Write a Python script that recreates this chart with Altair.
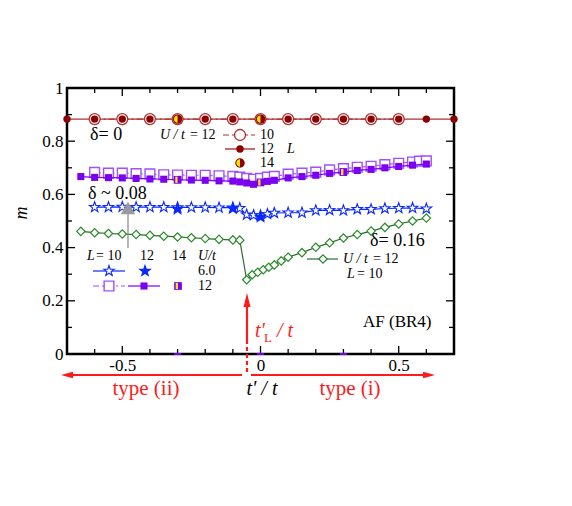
import altair as alt
import pandas as pd

# ---------------- data ----------------
# delta = 0, U/t = 12
red10_x = [-0.6, -0.5, -0.4, -0.3, -0.2, -0.1, 0.0, 0.1, 0.2, 0.3, 0.4, 0.5]
red10_m = [0.883, 0.883, 0.883, 0.883, 0.883, 0.883, 0.883, 0.883, 0.883, 0.883, 0.883, 0.883]
red12_x = [-0.7, -0.6, -0.5, -0.4, -0.3, -0.2, -0.1, 0.0, 0.1, 0.2, 0.3, 0.4, 0.5, 0.6, 0.7]
red12_m = [0.883, 0.883, 0.883, 0.883, 0.883, 0.883, 0.883, 0.883, 0.883, 0.883, 0.883, 0.883, 0.883, 0.883, 0.883]
red14_x = [-0.3, 0.0]
red14_m = [0.883, 0.883]

# delta ~ 0.08, U/t = 12
pur10_x = [-0.6, -0.55, -0.5, -0.45, -0.4, -0.35, -0.3, -0.25, -0.2, -0.15, -0.1, -0.075, -0.05, -0.025, 0.0,
           0.025, 0.05, 0.1, 0.15, 0.2, 0.25, 0.3, 0.35, 0.4, 0.45, 0.5, 0.55, 0.575, 0.6]
pur10_m = [0.683, 0.680, 0.680, 0.678, 0.677, 0.674, 0.673, 0.672, 0.672, 0.670, 0.668, 0.665, 0.660, 0.657, 0.660,
           0.665, 0.668, 0.676, 0.680, 0.684, 0.692, 0.697, 0.702, 0.706, 0.712, 0.717, 0.722, 0.725, 0.726]
pur12_x = [-0.65, -0.6, -0.55, -0.5, -0.45, -0.4, -0.35, -0.3, -0.25, -0.2, -0.15, -0.1, -0.075, -0.05, -0.025, 0.0,
           0.025, 0.05, 0.1, 0.15, 0.2, 0.25, 0.3, 0.35, 0.4, 0.45, 0.5, 0.55, 0.6]
pur12_m = [0.667, 0.664, 0.663, 0.662, 0.660, 0.658, 0.657, 0.655, 0.654, 0.653, 0.651, 0.650, 0.647, 0.643, 0.638, 0.645,
           0.649, 0.653, 0.662, 0.667, 0.672, 0.679, 0.684, 0.690, 0.694, 0.700, 0.705, 0.710, 0.714]
pur14_x = [-0.3, 0.0, 0.3]
pur14_m = [0.655, 0.645, 0.684]

# delta ~ 0.08, U/t = 6
blu10_x = [-0.6, -0.55, -0.5, -0.45, -0.4, -0.35, -0.3, -0.25, -0.2, -0.15, -0.1, -0.075, -0.05, -0.025, 0.0,
           0.025, 0.05, 0.1, 0.15, 0.2, 0.25, 0.3, 0.35, 0.4, 0.45, 0.5, 0.55, 0.6]
blu10_m = [0.552, 0.552, 0.553, 0.552, 0.552, 0.552, 0.551, 0.551, 0.551, 0.550, 0.550, 0.548, 0.524, 0.522, 0.521,
           0.526, 0.530, 0.531, 0.531, 0.540, 0.541, 0.540, 0.544, 0.544, 0.547, 0.548, 0.549, 0.546]
blu12_x = [-0.3, -0.1, 0.0]
blu12_m = [0.545, 0.547, 0.515]

# delta = 0.16, U/t = 12, L = 10
grn_x = [-0.65, -0.6, -0.55, -0.5, -0.45, -0.4, -0.35, -0.3, -0.25, -0.2, -0.15, -0.1, -0.075, -0.05, -0.03, -0.01,
         0.01, 0.03, 0.05, 0.075, 0.1, 0.15, 0.2, 0.25, 0.3, 0.35, 0.4, 0.45, 0.5, 0.55, 0.6]
grn_m = [0.461, 0.456, 0.453, 0.451, 0.449, 0.446, 0.443, 0.440, 0.437, 0.434, 0.431, 0.429, 0.428, 0.279, 0.298, 0.307,
         0.317, 0.326, 0.335, 0.350, 0.364, 0.381, 0.401, 0.418, 0.436, 0.449, 0.462, 0.476, 0.489, 0.500, 0.511]

# small purple marks sitting on the axis
zero_x = [-0.3, 0.0, 0.3]
zero_m = [0.0, 0.0, 0.0]

# axis ticks
x_major = [-0.5, 0.0, 0.5]
x_minor = [-0.6, -0.4, -0.3, -0.2, -0.1, 0.1, 0.2, 0.3, 0.4, 0.6]
y_major = [0.2, 0.4, 0.6, 0.8]
y_minor = [0.1, 0.3, 0.5, 0.7, 0.9]
y_labels = [0.0, 0.2, 0.4, 0.6, 0.8, 1.0]

# ---------------- styling ----------------
FONT = "Liberation Serif"
W, H = 387, 266
RED_D = "#8B0000"
RED_L = "#B03030"
YEL = "#FFE600"
PUR = "#7B00F0"
PUR_L = "#A050FF"
BLU = "#0A28FF"
GRN = "#2A8A2A"
GRN_L = "#2F6A2F"
STAR = ("M0,-1L0.235,-0.324L0.951,-0.309L0.38,0.124L0.588,0.809L0,0.4"
        "L-0.588,0.809L-0.38,0.124L-0.951,-0.309L-0.235,-0.324Z")
HALF_C = "M0,-1A1,1,0,0,0,0,1Z"
HALF_S = "M-0.6,-0.8H0V0.8H-0.6Z"
DASHDOT = [6, 3, 2, 3]
LF = 14  # legend font size

xs = alt.Scale(domain=[-0.7, 0.7], nice=False, zero=False)
ys = alt.Scale(domain=[0, 1], nice=False)
xaxis = alt.Axis(values=x_major, ticks=False, domain=False, grid=False, title=None,
                 labelExpr="datum.value < 0 ? '-' + format(-datum.value, '.1f') : (datum.value == 0 ? '0' : format(datum.value, '.1f'))",
                 labelPadding=3)
yaxis = alt.Axis(values=y_labels, ticks=False, domain=False, grid=False, title=None,
                 labelExpr="format(datum.value, '~g')", labelPadding=4)
X = alt.X("x:Q", scale=xs, axis=xaxis)
Y = alt.Y("m:Q", scale=ys, axis=yaxis)
one = pd.DataFrame({"k": [0]})


def df(x, m):
    return pd.DataFrame({"x": x, "m": m})


def line(d, color, width=1.2, dash=None):
    kw = dict(color=color, strokeWidth=width)
    if dash:
        kw["strokeDash"] = dash
    return alt.Chart(d).mark_line(**kw).encode(x=X, y=Y)


def marker(d, shape, size, fill, stroke=None, sw=1.2):
    kw = dict(shape=shape, size=size, filled=True, fill=fill, opacity=1)
    if stroke:
        kw["stroke"] = stroke
        kw["strokeWidth"] = sw
    else:
        kw["strokeWidth"] = 0
    return alt.Chart(d).mark_point(**kw).encode(x=X, y=Y)


def vmarker(px, py, shape, size, fill, stroke=None, sw=1.2):
    kw = dict(shape=shape, size=size, filled=True, fill=fill, opacity=1)
    if stroke:
        kw["stroke"] = stroke
        kw["strokeWidth"] = sw
    else:
        kw["strokeWidth"] = 0
    return alt.Chart(one).mark_point(**kw).encode(x=alt.value(px), y=alt.value(py))


def hrule(x1, x2, y, color, width=1.2, dash=None):
    kw = dict(color=color, strokeWidth=width)
    if dash:
        kw["strokeDash"] = dash
    return alt.Chart(one).mark_rule(**kw).encode(x=alt.value(x1), x2=alt.value(x2), y=alt.value(y))


def vrule(x, y1, y2, color, width=1.2, dash=None):
    kw = dict(color=color, strokeWidth=width)
    if dash:
        kw["strokeDash"] = dash
    return alt.Chart(one).mark_rule(**kw).encode(x=alt.value(x), y=alt.value(y1), y2=alt.value(y2))


def txt(s, px, py, size=LF, color="black", italic=False, align="left", angle=None):
    kw = dict(text=s, font=FONT, fontSize=size, color=color, align=align, baseline="middle")
    if italic:
        kw["fontStyle"] = "italic"
    if angle is not None:
        kw["angle"] = angle
    return alt.Chart(one).mark_text(**kw).encode(x=alt.value(px), y=alt.value(py))


layers = []

# inward ticks on all four sides
tk = dict(color="black", strokeWidth=1.3)
layers += [
    alt.Chart(pd.DataFrame({"x": x_major})).mark_rule(**tk).encode(x=X, y=alt.value(H), y2=alt.value(H - 8)),
    alt.Chart(pd.DataFrame({"x": x_minor})).mark_rule(**tk).encode(x=X, y=alt.value(H), y2=alt.value(H - 5)),
    alt.Chart(pd.DataFrame({"x": x_major})).mark_rule(**tk).encode(x=X, y=alt.value(0), y2=alt.value(8)),
    alt.Chart(pd.DataFrame({"x": x_minor})).mark_rule(**tk).encode(x=X, y=alt.value(0), y2=alt.value(5)),
    alt.Chart(pd.DataFrame({"m": y_major})).mark_rule(**tk).encode(y=Y, x=alt.value(0), x2=alt.value(8)),
    alt.Chart(pd.DataFrame({"m": y_minor})).mark_rule(**tk).encode(y=Y, x=alt.value(0), x2=alt.value(5)),
    alt.Chart(pd.DataFrame({"m": y_major})).mark_rule(**tk).encode(y=Y, x=alt.value(W), x2=alt.value(W - 8)),
    alt.Chart(pd.DataFrame({"m": y_minor})).mark_rule(**tk).encode(y=Y, x=alt.value(W), x2=alt.value(W - 5)),
]

# delta = 0
d_r10, d_r12, d_r14 = df(red10_x, red10_m), df(red12_x, red12_m), df(red14_x, red14_m)
layers += [
    line(d_r10, RED_L, 1.2, DASHDOT),
    line(d_r12, RED_L, 1.4),
    marker(d_r10, "circle", 120, "white", RED_L, 1.3),
    marker(d_r12, "circle", 55, RED_D),
    marker(d_r14, "circle", 90, RED_D),
    marker(d_r14, HALF_C, 55, YEL),
]

# delta ~ 0.08, U/t = 12
d_p10, d_p12, d_p14 = df(pur10_x, pur10_m), df(pur12_x, pur12_m), df(pur14_x, pur14_m)
layers += [
    line(d_p10, PUR_L, 1.2, DASHDOT),
    marker(d_p10, "square", 95, "white", PUR_L, 1.4),
    line(d_p12, PUR, 1.2),
    marker(d_p12, "square", 50, PUR),
    marker(d_p14, "square", 60, PUR),
    marker(d_p14, HALF_S, 60, YEL),
]

# delta ~ 0.08, U/t = 6
d_b10, d_b12 = df(blu10_x, blu10_m), df(blu12_x, blu12_m)
layers += [
    line(d_b10, BLU, 1.2),
    marker(d_b10, STAR, 120, "white", BLU, 1.1),
    marker(d_b12, STAR, 210, BLU),
]

# delta = 0.16
d_g = df(grn_x, grn_m)
layers += [
    line(d_g, GRN_L, 1.2),
    marker(d_g, "diamond", 70, "white", GRN, 1.2),
]

# purple marks on the axis
layers.append(
    alt.Chart(df(zero_x, zero_m)).mark_tick(orient="horizontal", color=PUR, thickness=2, size=7, opacity=1)
    .encode(x=X, y=Y)
)

# ---------------- annotations / in-plot legends ----------------
# top legend
layers += [
    txt("\u03b4= 0", 23, 47, 18),
    txt("U / t", 93, 47, italic=True),
    txt("= 12", 123, 47),
    hrule(156, 188, 47, RED_L, 1.2, DASHDOT),
    vmarker(173, 47, "circle", 120, "white", RED_L, 1.3),
    txt("10", 193, 47),
    hrule(158, 188, 61, RED_L, 1.4),
    vmarker(173, 61, "circle", 55, RED_D),
    txt("12", 193, 61),
    txt("L", 220, 61, italic=True),
    vmarker(173, 75, "circle", 90, RED_D),
    vmarker(173, 75, HALF_C, 55, YEL),
    txt("14", 193, 75),
]

# delta ~ 0.08 label with grey arrow
layers += [
    txt("\u03b4 ~ 0.08", 21, 106, 18),
    vrule(61, 125, 160, "#909090", 1.3),
    vmarker(61, 120, "triangle-up", 210, "#9A9A9A"),
]

# lower-left legend
layers += [
    txt("L", 20, 168, italic=True),
    txt("= 10", 29, 168),
    txt("12", 73, 168),
    txt("14", 105, 168),
    txt("U/t", 131, 168, italic=True),
    hrule(26, 58, 183, BLU, 1.2),
    vmarker(42, 183, STAR, 120, "white", BLU, 1.1),
    vmarker(78, 183, STAR, 210, BLU),
    txt("6.0", 131, 183),
    hrule(26, 58, 198, PUR_L, 1.2, DASHDOT),
    vmarker(42, 198, "square", 95, "white", PUR_L, 1.4),
    hrule(61, 93, 198, PUR, 1.2),
    vmarker(77, 198, "square", 50, PUR),
    vmarker(111, 198, "square", 60, PUR),
    vmarker(111, 198, HALF_S, 60, YEL),
    txt("12", 131, 198),
]

# right legend
layers += [
    txt("\u03b4= 0.16", 303, 153, 18),
    hrule(240, 271, 171, GRN_L, 1.2),
    vmarker(256, 171, "diamond", 70, "white", GRN, 1.2),
    txt("U / t", 276, 171, italic=True),
    txt("= 12", 306, 171),
    txt("L", 280, 186, italic=True),
    txt("= 10", 290, 186),
    txt("AF (BR4)", 296, 234, 17),
]

# red t'_L marker and arrows
RED = "#FF1A1A"
layers += [
    vrule(180, 217, 252, RED, 2.2),
    vrule(180, 252, 286, RED, 2.2, [4, 3]),
    vmarker(180, 212, "M0,-1L0.5,1L-0.5,1Z", 196, RED),
    txt("t'", 188, 243, 20, RED, italic=True),
    txt("L", 197, 250, 13, RED),
    txt("/ t", 210, 243, 20, RED, italic=True),
    hrule(6, 175, 287, RED, 2.2),
    vmarker(0, 287, "M-1,0L1,-0.55L1,0.55Z", 144, RED),
    hrule(184, 363, 287, RED, 2.2),
    vmarker(362, 287, "M1,0L-1,-0.55L-1,0.55Z", 144, RED),
    txt("type (ii)", 79, 301, 21, RED, align="center"),
    txt("type (i)", 283, 301, 21, RED, align="center"),
    txt("t' / t", 195, 301, 20, italic=True, align="center"),
    txt("m", -45, 125, 18, italic=True, align="center", angle=270),
]

chart = (
    alt.layer(*layers)
    .properties(width=W, height=H,
                padding={"left": 59, "top": 80, "right": 100, "bottom": 140},
                autosize=alt.AutoSizeParams(type="none"))
    .configure_view(stroke="black", strokeWidth=2.5)
    .configure_axis(labelFont=FONT, labelFontSize=17, labelColor="black")
)

chart.save("out.html", embed_options={"renderer": "svg", "actions": False})
